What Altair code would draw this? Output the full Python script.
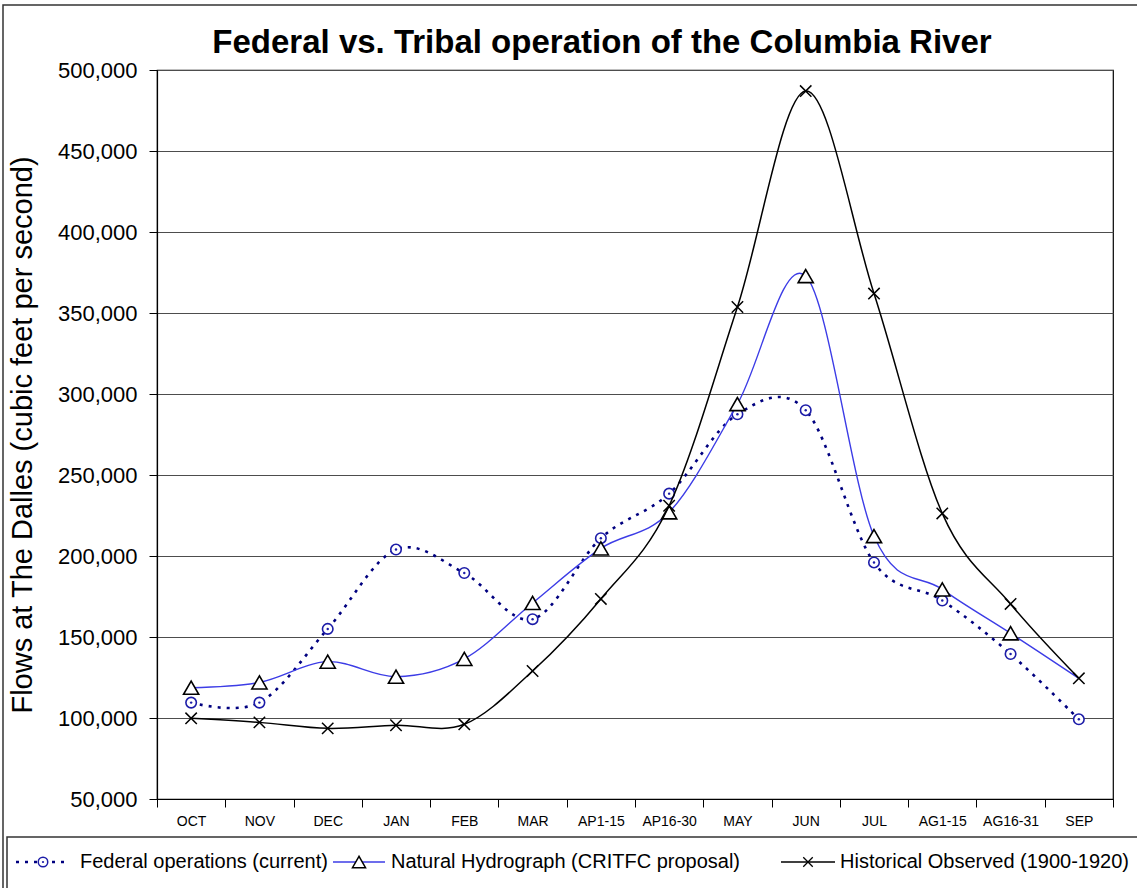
import altair as alt
import pandas as pd

# ---------------- data ----------------
months = ["OCT", "NOV", "DEC", "JAN", "FEB", "MAR", "AP1-15", "AP16-30",
          "MAY", "JUN", "JUL", "AG1-15", "AG16-31", "SEP"]
federal = [109500, 109500, 155000, 204000, 189500, 161000, 211000, 238500,
           287500, 290000, 196000, 172500, 139500, 99200]
natural = [118700, 122000, 134800, 125500, 136500, 171000, 204700, 227000,
           293800, 372800, 212300, 179400, 152300, 124500]
historical = [99800, 97300, 93600, 95500, 96100, 129000, 173500, 231000,
              353700, 487000, 362000, 226300, 170400, 124500]
natural_marker_shown = [True] * 13 + [False]
series_names = ["Federal operations (current)",
                "Natural Hydrograph (CRITFC proposal)",
                "Historical Observed (1900-1920)"]
chart_title = "Federal vs. Tribal operation of the Columbia River"
y_title = "Flows at The Dalles (cubic feet per second)"
y_ticks = [50000, 100000, 150000, 200000, 250000, 300000, 350000, 400000, 450000, 500000]

# ---------------- styling ----------------
FONT = "Liberation Sans, Arial, Helvetica, sans-serif"
NAVY = "#00007f"
NAVY_MARK = "#1c1ca8"
BLUE = "#3c3ce6"
W, H = 956, 729


def frame(vals, name, extra=None):
    df = pd.DataFrame({"month": months, "value": vals, "series": name})
    if extra is not None:
        df["show"] = extra
    return df


fed_df = frame(federal, series_names[0])
nat_df = frame(natural, series_names[1], natural_marker_shown)
his_df = frame(historical, series_names[2])

x_scale = alt.Scale(type="band", domain=months, paddingInner=0, paddingOuter=0)
x_enc = alt.X(
    "month:O", sort=months, scale=x_scale, bandPosition=0.5,
    axis=alt.Axis(
        title=None, grid=False, tickBand="extent",
        tickSize=8, tickColor="black", domainColor="black", domainWidth=1.2,
        labelFontSize=14, labelFont=FONT, labelColor="black", labelPadding=7,
        labelAngle=0,
    ),
)
x_plain = alt.X("month:O", sort=months, scale=x_scale, bandPosition=0.5)
y_enc = alt.Y(
    "value:Q",
    scale=alt.Scale(domain=[50000, 500000], nice=False, zero=False),
    axis=alt.Axis(
        values=y_ticks, format=",.0f", title=y_title,
        titleFont=FONT, titleFontSize=29, titleFontWeight="normal", titleColor="black",
        titleX=-135, titleY=H / 2, titleAngle=-90, titleAlign="center", titleBaseline="middle",
        labelFont=FONT, labelFontSize=22, labelColor="black", labelPadding=12,
        tickSize=8, tickColor="black", domainColor="black", domainWidth=1.2,
        grid=True, gridColor="#4d4d4d", gridWidth=1,
    ),
)

fed_line = alt.Chart(fed_df).mark_line(
    interpolate="cardinal", color=NAVY, strokeWidth=2.6, strokeDash=[3, 6]
).encode(x=x_enc, y=y_enc)
fed_pts = alt.Chart(fed_df).mark_point(
    shape="circle", size=110, fill="white", stroke=NAVY_MARK, strokeWidth=1.6, opacity=1
).encode(x=x_plain, y="value:Q")
fed_dots = alt.Chart(fed_df).mark_point(
    shape="circle", size=6, filled=True, color=NAVY_MARK, opacity=1
).encode(x=x_plain, y="value:Q")

nat_line = alt.Chart(nat_df).mark_line(
    interpolate="cardinal", color=BLUE, strokeWidth=1.4
).encode(x=x_plain, y="value:Q")
nat_pts = alt.Chart(nat_df).transform_filter("datum.show").mark_point(
    shape="triangle-up", size=230, fill="white", stroke="black", strokeWidth=1.6, opacity=1
).encode(x=x_plain, y="value:Q")

XPATH = "M-1,-1L1,1M-1,1L1,-1"
his_line = alt.Chart(his_df).mark_line(
    interpolate="cardinal", color="black", strokeWidth=1.5
).encode(x=x_plain, y="value:Q")
his_pts = alt.Chart(his_df).mark_point(
    shape=XPATH, size=130, stroke="black", strokeWidth=1.5, filled=False, opacity=1
).encode(x=x_plain, y="value:Q")

# ---------------- frame + legend (decoration, pixel positions) ----------------
one = alt.Data(values=[{"k": 0}])
outer = alt.Chart(one).mark_rect(
    fillOpacity=0, stroke="#333333", strokeWidth=1.5
).encode(x=alt.value(-154), x2=alt.value(1000), y=alt.value(-65), y2=alt.value(850))
legend_box = alt.Chart(one).mark_rect(
    fillOpacity=0, stroke="#333333", strokeWidth=1.5
).encode(x=alt.value(-150), x2=alt.value(1000), y=alt.value(767), y2=alt.value(850))

LY = 792
LFS = 20
leg_layers = []
leg_data = [alt.Data(values=[{"name": n}]) for n in series_names]
# Federal
leg_layers.append(alt.Chart(leg_data[0]).mark_rule(color=NAVY, strokeWidth=2.6, strokeDash=[3, 6])
                  .encode(x=alt.value(-141), x2=alt.value(-87), y=alt.value(LY)))
leg_layers.append(alt.Chart(leg_data[0]).mark_point(shape="circle", size=90, fill="white", stroke=NAVY_MARK,
                                                    strokeWidth=1.5, opacity=1)
                  .encode(x=alt.value(-114), y=alt.value(LY)))
leg_layers.append(alt.Chart(leg_data[0]).mark_point(shape="circle", size=5, filled=True, color=NAVY_MARK, opacity=1)
                  .encode(x=alt.value(-114), y=alt.value(LY)))
leg_layers.append(alt.Chart(leg_data[0]).mark_text(align="left", baseline="middle", font=FONT, fontSize=LFS,
                                                   color="black")
                  .encode(x=alt.value(-77), y=alt.value(LY), text="name:N"))
# Natural
leg_layers.append(alt.Chart(leg_data[1]).mark_rule(color=BLUE, strokeWidth=1.4)
                  .encode(x=alt.value(176), x2=alt.value(228), y=alt.value(LY)))
leg_layers.append(alt.Chart(leg_data[1]).mark_point(shape="triangle-up", size=170, fill="white", stroke="black",
                                                    strokeWidth=1.5, opacity=1)
                  .encode(x=alt.value(202), y=alt.value(LY)))
leg_layers.append(alt.Chart(leg_data[1]).mark_text(align="left", baseline="middle", font=FONT, fontSize=LFS,
                                                   color="black")
                  .encode(x=alt.value(234), y=alt.value(LY), text="name:N"))
# Historical
leg_layers.append(alt.Chart(leg_data[2]).mark_rule(color="black", strokeWidth=1.5)
                  .encode(x=alt.value(624), x2=alt.value(678), y=alt.value(LY)))
leg_layers.append(alt.Chart(leg_data[2]).mark_point(shape=XPATH, size=90, stroke="black", strokeWidth=1.3,
                                                    filled=False, opacity=1)
                  .encode(x=alt.value(651), y=alt.value(LY)))
leg_layers.append(alt.Chart(leg_data[2]).mark_text(align="left", baseline="middle", font=FONT, fontSize=LFS,
                                                   color="black")
                  .encode(x=alt.value(683), y=alt.value(LY), text="name:N"))

chart = alt.layer(
    fed_line, fed_pts, fed_dots, nat_line, nat_pts, his_line, his_pts,
    outer, legend_box, *leg_layers
).properties(
    width=W, height=H,
    title=alt.Title(chart_title, font=FONT, fontSize=33,
                    fontWeight="bold", color="black", anchor="middle", frame="group",
                    baseline="alphabetic", offset=22, dx=-33, dy=104),
    autosize=alt.AutoSizeParams(type="none"),
    padding={"left": 157, "top": 70, "right": 1137 - 157 - W, "bottom": 888 - 70 - H},
    background="white",
).configure_view(stroke="black", strokeWidth=1.2)

chart.save("out.html", embed_options={"renderer": "svg", "actions": False})
